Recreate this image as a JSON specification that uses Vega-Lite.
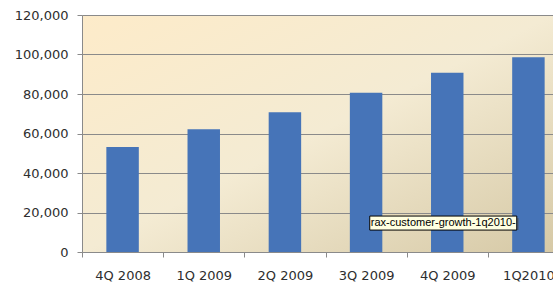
{
  "$schema": "https://vega.github.io/schema/vega-lite/v6.json",
  "autosize": {"type": "none"},
  "width": 471,
  "height": 237,
  "padding": {"left": 82, "top": 15, "right": 0, "bottom": 36},
  "background": "#ffffff",
  "config": {
    "view": {
      "stroke": null,
      "fill": {
        "gradient": "linear",
        "x1": 0, "y1": 0, "x2": 1, "y2": 1,
        "stops": [
          {"offset": 0, "color": "#fdebc9"},
          {"offset": 0.5, "color": "#f4ebd3"},
          {"offset": 1, "color": "#d6c9a6"}
        ]
      }
    },
    "axis": {
      "labelFont": "DejaVu Sans",
      "labelFontSize": 13,
      "labelColor": "#2e2e2e",
      "domainColor": "#8a8a8a",
      "tickColor": "#8a8a8a",
      "gridColor": "#8a8a8a",
      "gridOpacity": 1,
      "title": null,
      "labelOverlap": false
    },
    "axisY": {
      "values": [0, 20000, 40000, 60000, 80000, 100000, 120000],
      "format": ",d",
      "grid": true,
      "tickSize": 5,
      "labelPadding": 9
    }
  },
  "data": {
    "values": [
      {"quarter": "4Q 2008", "customers": 53200},
      {"quarter": "1Q 2009", "customers": 62200},
      {"quarter": "2Q 2009", "customers": 70800},
      {"quarter": "3Q 2009", "customers": 80600},
      {"quarter": "4Q 2009", "customers": 90700},
      {"quarter": "1Q2010", "customers": 98600}
    ]
  },
  "encoding": {
    "x": {
      "field": "quarter",
      "type": "nominal",
      "sort": null,
      "scale": {"range": [0, 487], "paddingInner": 0.6, "paddingOuter": 0.3},
      "axis": {
        "labelAngle": 0,
        "bandPosition": 0.5,
        "tickOffset": -40.58,
        "labelOffset": 40.58,
        "tickSize": 5,
        "labelPadding": 12,
        "grid": false
      }
    }
  },
  "layer": [
    {
      "mark": {"type": "bar", "color": "#4674b8"},
      "encoding": {
        "y": {
          "field": "customers",
          "type": "quantitative",
          "scale": {"domain": [0, 120000]}
        }
      }
    },
    {
      "data": {"values": [{"quarter": "4Q 2009", "label": "rax-customer-growth-1q2010-"}]},
      "layer": [
        {
          "mark": {"type": "bar", "width": 147, "xOffset": -2, "yOffset": 2, "color": "#555555", "opacity": 0.55},
          "encoding": {"y": {"datum": 18200, "type": "quantitative"}, "y2": {"datum": 11100}}
        },
        {
          "mark": {"type": "bar", "width": 147, "xOffset": -4, "fill": "#ffffe1", "stroke": "#000000", "strokeWidth": 1},
          "encoding": {"y": {"datum": 18200, "type": "quantitative"}, "y2": {"datum": 11100}}
        },
        {
          "mark": {"type": "text", "dx": -4, "font": "Liberation Sans", "fontSize": 11, "color": "#000000", "baseline": "middle"},
          "encoding": {"y": {"datum": 14600, "type": "quantitative"}, "text": {"field": "label"}}
        }
      ]
    }
  ]
}
